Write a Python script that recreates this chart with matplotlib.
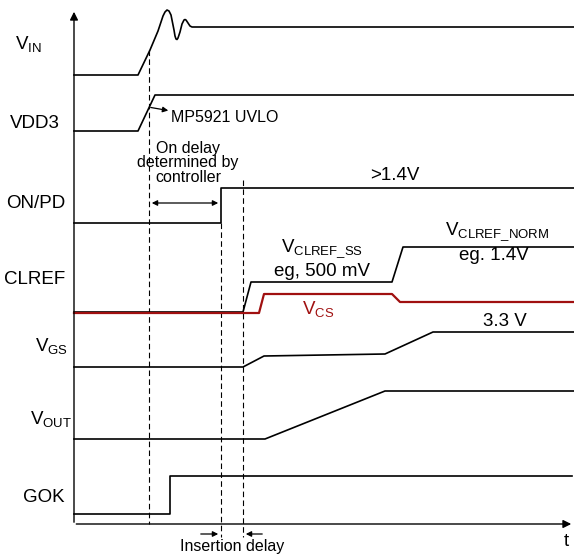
# Timing diagram: start-up sequence (VIN, VDD3, ON/PD, CLREF, VGS, VOUT, GOK)

import matplotlib.pyplot as plt

plt.rcParams['font.family'] = ['Liberation Sans', 'DejaVu Sans']
plt.rcParams['mathtext.fontset'] = 'custom'
plt.rcParams['mathtext.rm'] = 'Liberation Sans'

# Waveforms, given as (time, level) in picture units (y grows downwards)
vin_t = [74, 138, 150, 158, 161, 163, 165, 167, 169, 171, 172, 174, 175, 176, 177, 178,
         180, 182, 184, 185, 186, 188, 190, 192, 574]
vin_v = [75, 75, 50, 31, 22, 16, 12, 10, 11, 15, 20, 30, 36, 39, 39.5, 38,
         32, 24, 20, 19.5, 20, 23, 26, 27, 27]
vdd3_t = [74, 138, 155, 574]
vdd3_v = [131, 131, 95, 95]
onpd_t = [74, 221, 221, 574]
onpd_v = [223, 223, 188, 188]
clref_t = [74, 243, 251, 392, 403, 574]
clref_v = [312, 312, 282, 282, 247, 247]
vcs_t = [74, 259, 264, 392, 400, 574]
vcs_v = [313, 313, 294, 294, 302, 302]
vgs_t = [74, 243, 264, 385, 433, 574]
vgs_v = [367, 367, 356, 354, 332, 332]
vout_t = [74, 265, 385, 574]
vout_v = [439, 439, 391, 391]
gok_t = [74, 170, 170, 572]
gok_v = [514, 514, 476, 476]

# Dashed event markers: time, top, bottom
mark_t = [149, 221, 243]
mark_top = [50, 223, 180]
mark_bot = [524, 537, 537]

# Signal names on the left: text, x, y
names = ["V$_\\mathregular{IN}$", "VDD3", "ON/PD", "CLREF", "V$_\\mathregular{GS}$", "V$_\\mathregular{OUT}$", "GOK"]
name_x = [28, 35, 36, 35, 52, 51, 44]
name_y = [45, 123, 203, 280, 347, 420, 497]

fig = plt.figure(figsize=(5.74, 5.58), dpi=100)
ax = fig.add_axes([0, 0, 1, 1])
ax.set_xlim(0, 574)
ax.set_ylim(558, 0)
ax.axis("off")

# axes with arrows
ax.annotate("", xy=(74, 9), xytext=(74, 525),
            arrowprops=dict(arrowstyle="-|>", color="black", lw=1, mutation_scale=12))
ax.annotate("", xy=(574, 524), xytext=(73.5, 524),
            arrowprops=dict(arrowstyle="-|>", color="black", lw=1, mutation_scale=12))
ax.text(566, 542, "t", fontsize=13.5, ha="center", va="center")

# dashed markers
for x, y0, y1 in zip(mark_t, mark_top, mark_bot):
    ax.plot([x, x], [y0, y1], color="black", lw=0.8, ls=(0, (5, 3)))

# waveforms
for t, v in [(vin_t, vin_v), (vdd3_t, vdd3_v), (onpd_t, onpd_v), (clref_t, clref_v),
             (vgs_t, vgs_v), (vout_t, vout_v), (gok_t, gok_v)]:
    ax.plot(t, v, color="black", lw=1.2, solid_joinstyle="round")
ax.plot(vcs_t, vcs_v, color="#a01010", lw=1.6)

# signal names
for s, x, y in zip(names, name_x, name_y):
    ax.text(x, y, s, fontsize=13.5, ha="center", va="center")

# annotations
ax.annotate("", xy=(171, 111), xytext=(148, 107),
            arrowprops=dict(arrowstyle="-|>", color="black", lw=0.9, mutation_scale=8))
ax.text(171, 118, "MP5921 UVLO", fontsize=11.5, ha="left", va="center")

ax.annotate("", xy=(149, 203), xytext=(221, 203),
            arrowprops=dict(arrowstyle="<|-|>", color="black", lw=0.9, mutation_scale=8))
ax.text(188, 163, "On delay\ndetermined by\ncontroller", fontsize=11.5, ha="center",
        va="center", linespacing=1.0)

ax.text(395, 176, ">1.4V", fontsize=13.5, ha="center", va="center")
ax.text(322, 249, "V$_\\mathregular{CLREF\\_SS}$", fontsize=13.5, ha="center", va="center")
ax.text(322, 272, "eg, 500 mV", fontsize=13.5, ha="center", va="center")
ax.text(497, 232, "V$_\\mathregular{CLREF\\_NORM}$", fontsize=13.5, ha="center", va="center")
ax.text(494, 255, "eg. 1.4V", fontsize=13.5, ha="center", va="center")
ax.text(318, 310, "V$_\\mathregular{CS}$", fontsize=13.5, ha="center", va="center", color="#a01010")
ax.text(505, 321, "3.3 V", fontsize=13.5, ha="center", va="center")

# insertion delay
ax.annotate("", xy=(221, 534), xytext=(198, 534),
            arrowprops=dict(arrowstyle="-|>", color="black", lw=0.9, mutation_scale=8))
ax.annotate("", xy=(243, 534), xytext=(265, 534),
            arrowprops=dict(arrowstyle="-|>", color="black", lw=0.9, mutation_scale=8))
ax.text(232, 547, "Insertion delay", fontsize=11.5, ha="center", va="center")

fig.savefig("out.png", dpi=100)
